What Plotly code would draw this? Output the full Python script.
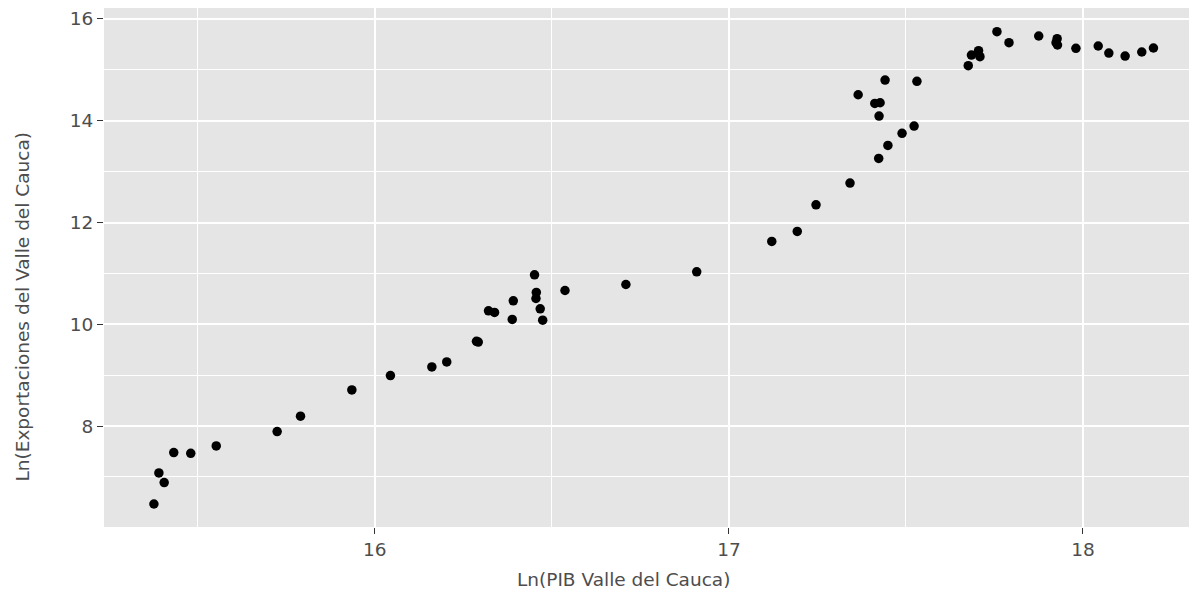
import plotly.graph_objects as go

ln_pib = [15.376, 15.390, 15.405, 15.432, 15.480, 15.552, 15.724, 15.790, 15.935, 16.044,
          16.161, 16.203, 16.287, 16.292, 16.321, 16.338, 16.388, 16.391, 16.451, 16.455,
          16.456, 16.467, 16.474, 16.537, 16.709, 16.909, 17.121, 17.193, 17.246, 17.342,
          17.423, 17.449, 17.489, 17.523, 17.424, 17.412, 17.427, 17.365, 17.441, 17.531,
          17.676, 17.685, 17.705, 17.709, 17.757, 17.791, 17.875, 17.927, 17.924, 17.928,
          17.980, 18.043, 18.073, 18.119, 18.166, 18.199]
ln_export = [6.468, 7.078, 6.889, 7.479, 7.465, 7.609, 7.892, 8.193, 8.710, 8.993,
             9.162, 9.260, 9.665, 9.650, 10.264, 10.232, 10.095, 10.461, 10.972, 10.507,
             10.625, 10.303, 10.081, 10.664, 10.782, 11.031, 11.628, 11.825, 12.348, 12.775,
             13.260, 13.516, 13.752, 13.896, 14.092, 14.341, 14.354, 14.511, 14.800, 14.775,
             15.082, 15.292, 15.377, 15.259, 15.751, 15.534, 15.666, 15.613, 15.534, 15.489,
             15.424, 15.469, 15.331, 15.272, 15.351, 15.430]

x_ticks = [16, 17, 18]
y_ticks = [8, 10, 12, 14, 16]
x_title = "Ln(PIB Valle del Cauca)"
y_title = "Ln(Exportaciones del Valle del Cauca)"

FONT = "Century Gothic, URW Gothic, DejaVu Sans, sans-serif"
TXT = "#4D4D4D"
FS = 18.5

# page body has an 8px default margin; plot sized/offset to compensate
fig = go.Figure(go.Scatter(
    x=ln_pib, y=ln_export, mode="markers",
    marker=dict(color="black", size=9.5, line=dict(width=0)),
    hoverinfo="x+y", showlegend=False))

fig.update_layout(
    width=1189, height=582,
    margin=dict(l=96, r=0, t=0, b=63),
    paper_bgcolor="white", plot_bgcolor="#E5E5E5",
    font=dict(family=FONT, size=FS, color=TXT),
    annotations=[
        dict(text=x_title, xref="paper", yref="paper", x=0.475, y=-0.102,
             xanchor="center", yanchor="middle", showarrow=False,
             font=dict(family=FONT, size=FS, color=TXT)),
        dict(text=y_title, xref="paper", yref="paper", x=-0.0745, y=0.424,
             xanchor="center", yanchor="middle", showarrow=False, textangle=-90,
             font=dict(family=FONT, size=FS, color=TXT)),
    ],
)
fig.update_xaxes(
    range=[15.235, 18.322], tickvals=x_ticks, ticktext=[str(v) for v in x_ticks],
    showgrid=True, gridcolor="white", gridwidth=2, zeroline=False, showline=False,
    ticks="outside", ticklen=6, tickwidth=1.2, tickcolor="#333333",
    tickfont=dict(family=FONT, size=FS, color=TXT),
    minor=dict(tickvals=[15.5, 16.5, 17.5, 18.5], showgrid=True, gridcolor="white", gridwidth=1, ticks=""),
)
fig.update_yaxes(
    range=[6.016, 16.216], tickvals=y_ticks, ticktext=[str(v) for v in y_ticks],
    showgrid=True, gridcolor="white", gridwidth=2, zeroline=False, showline=False,
    ticks="outside", ticklen=6, tickwidth=1.2, tickcolor="#333333",
    tickfont=dict(family=FONT, size=FS, color=TXT),
    minor=dict(tickvals=[7, 9, 11, 13, 15], showgrid=True, gridcolor="white", gridwidth=1, ticks=""),
)

fig.write_html("out.html")
